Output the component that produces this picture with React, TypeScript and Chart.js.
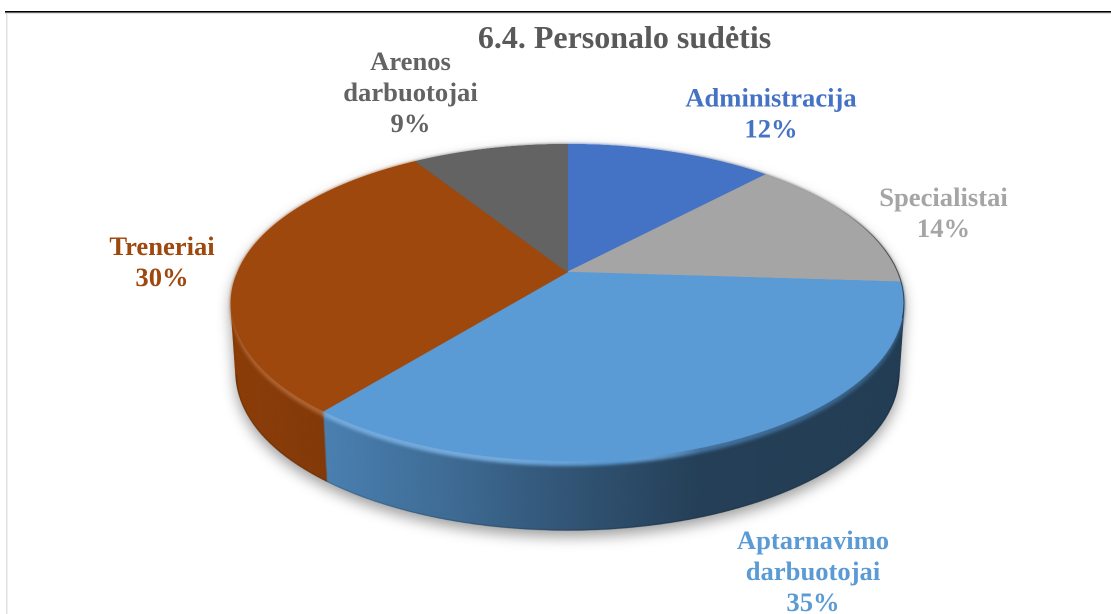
import React, { useEffect, useRef } from "react";
import { Chart, registerables } from "chart.js";

Chart.register(...registerables);

const categories = ["Administracija", "Specialistai", "Aptarnavimo darbuotojai", "Treneriai", "Arenos darbuotojai"];
const shares = [12, 14, 34.85, 30.15, 9];
const sliceColors = ["#4472C4", "#A5A5A5", "#5B9BD5", "#9E480E", "#636363"];
const titleText = "6.4. Personalo sudėtis";
const labelLines = [["Administracija"], ["Specialistai"], ["Aptarnavimo", "darbuotojai"], ["Treneriai"], ["Arenos", "darbuotojai"]];
const labelCenterX = [771, 943.5, 813, 162, 410.5];
const labelFirstLineY = [99.5, 199, 542, 248, 63];

const WIDTH = 1111;
const HEIGHT = 614;
const DPR = 2;
// projection of the flat pie: perspective tilt
const view = { cx: 567.5, apexY: 272, k: 0.1924, b: 152.6, a: 330.2, depth: 72.5, shrink: 0.985 };

function makeCanvas() {
  const c = document.createElement("canvas");
  c.width = WIDTH * DPR;
  c.height = HEIGHT * DPR;
  return c;
}

const pie3d = {
  id: "pie3d",
  afterDatasetsDraw(chart: any) {
    const el = chart.getDatasetMeta(0).data[0];
    const R = el.outerRadius + 0.5;
    const sx = el.x;
    const sy = el.y;
    const main = chart.ctx as CanvasRenderingContext2D;
    const src = makeCanvas();
    src.getContext("2d")!.drawImage(chart.canvas, 0, 0);

    // perspective warp of the drawn pie, row by row
    const face = makeCanvas();
    const fc = face.getContext("2d")!;
    fc.imageSmoothingQuality = "high";
    const { cx, apexY, k, b, a, depth, shrink } = view;
    const rowToV = (Yd: number) => {
      const y = Yd / DPR - apexY;
      return y / (b + k * y);
    };
    const top = Math.floor((apexY - b / (1 + k)) * DPR);
    const bottom = Math.ceil((apexY + b / (1 - k)) * DPR);
    for (let Yd = top; Yd < bottom; Yd++) {
      const v0 = rowToV(Yd);
      const v1 = rowToV(Yd + 1);
      const w = 1 - k * (v0 + v1) / 2;
      const s0 = (sy + R * Math.max(-1, v0)) * DPR;
      const s1 = (sy + R * Math.min(1, v1)) * DPR;
      fc.drawImage(src, (sx - R) * DPR, s0, 2 * R * DPR, Math.max(0.01, s1 - s0), (cx - a / w) * DPR, Yd, (2 * a / w) * DPR, 1);
    }

    const cy = apexY + (b / (1 - k) - b / (1 + k)) / 2;
    const ry = (b / (1 - k) + b / (1 + k)) / 2;
    const rx = a / Math.sqrt(1 - k * k);

    const xGrad = (c: CanvasRenderingContext2D, stops: [number, string][]) => {
      const g = c.createLinearGradient(231 * DPR, 0, 904 * DPR, 0);
      stops.forEach(([x, col]) => g.addColorStop((x - 231) / 673, col));
      return g;
    };
    const stack = (c: CanvasRenderingContext2D, from: number, to: number, scaleEnd: number) => {
      const n = Math.max(1, Math.round((to - from) * DPR));
      for (let i = n; i >= 0; i--) {
        const d = from + ((to - from) * i) / n;
        const s = 1 - (1 - scaleEnd) * (d / depth);
        c.setTransform(s, 0, 0, s, cx * DPR * (1 - s), (apexY * (1 - s) + d) * DPR);
        c.drawImage(face, 0, 0);
      }
      c.setTransform(1, 0, 0, 1, 0, 0);
    };

    // side wall
    const wall = makeCanvas();
    const wc = wall.getContext("2d")!;
    stack(wc, 0, depth, shrink);
    wc.globalCompositeOperation = "source-atop";
    wc.fillStyle = xGrad(wc, [
      [231, "rgba(0,0,0,0.10)"],
      [325, "rgba(0,0,0,0.17)"],
      [450, "rgba(0,0,0,0.30)"],
      [560, "rgba(0,0,0,0.44)"],
      [700, "rgba(0,0,0,0.59)"],
      [904, "rgba(0,0,0,0.60)"],
    ]);
    wc.fillRect(0, 0, wall.width, wall.height);
    // darker foot of the wall
    const lowY = apexY + (cy - apexY) * shrink + depth;
    wc.beginPath();
    wc.ellipse(cx * DPR, lowY * DPR, rx * shrink * DPR, ry * shrink * DPR, 0, 0, Math.PI);
    wc.strokeStyle = "rgba(0,0,0,0.28)";
    wc.lineWidth = 3;
    wc.filter = "blur(1px)";
    wc.stroke();
    wc.filter = "none";

    // bevel between the top face and the wall
    const bevel = makeCanvas();
    const bc = bevel.getContext("2d")!;
    stack(bc, 0, 5, shrink);
    bc.globalCompositeOperation = "source-atop";
    bc.fillStyle = xGrad(bc, [
      [231, "rgba(255,255,255,0.16)"],
      [500, "rgba(255,255,255,0.16)"],
      [620, "rgba(255,255,255,0)"],
      [700, "rgba(0,0,0,0.25)"],
      [904, "rgba(0,0,0,0.4)"],
    ]);
    bc.fillRect(0, 0, bevel.width, bevel.height);

    main.save();
    main.setTransform(1, 0, 0, 1, 0, 0);
    main.clearRect(0, 0, chart.canvas.width, chart.canvas.height);
    main.shadowColor = "rgba(0,0,0,0.38)";
    main.shadowBlur = 28;
    main.shadowOffsetY = 12;
    main.drawImage(wall, 0, 0);
    main.shadowColor = "transparent";
    main.shadowBlur = 0;
    main.shadowOffsetY = 0;
    main.filter = "blur(3px)";
    main.drawImage(bevel, 0, 0);
    main.filter = "none";
    main.drawImage(face, 0, 0);

    // dark rim on the far right edge
    main.beginPath();
    main.ellipse(cx * DPR, cy * DPR, rx * DPR, ry * DPR, 0, -Math.PI / 2, 0.1);
    main.strokeStyle = xGrad(main, [
      [835, "rgba(40,50,60,0)"],
      [885, "rgba(40,50,60,0.7)"],
      [904, "rgba(40,50,60,0.8)"],
    ]);
    main.lineWidth = 2;
    main.stroke();
    main.restore();

    // frame
    main.save();
    main.fillStyle = "#e0e0e0";
    main.fillRect(6, 12, 1.5, HEIGHT - 12);
    main.fillRect(5, 13, WIDTH - 5, 1);
    main.fillStyle = "#000000";
    main.fillRect(5, 11, WIDTH - 5, 1.6);

    // title and labels
    main.textAlign = "center";
    main.textBaseline = "middle";
    main.fillStyle = "#595959";
    main.font = 'bold 32px "Liberation Serif"';
    main.fillText(titleText, 624.5, 39.5);
    main.font = 'bold 26.6px "Liberation Serif"';
    categories.forEach((_, i) => {
      main.fillStyle = sliceColors[i];
      const lines = [...labelLines[i], Math.round(shares[i]) + "%"];
      lines.forEach((t, j) => main.fillText(t, labelCenterX[i], labelFirstLineY[i] + j * 31));
    });
    main.restore();
  },
};

export default function App() {
  const ref = useRef<HTMLCanvasElement>(null);
  useEffect(() => {
    const chart = new Chart(ref.current!, {
      type: "pie",
      data: {
        labels: categories,
        datasets: [{ data: shares, backgroundColor: sliceColors, borderColor: sliceColors, borderWidth: 1 }],
      },
      options: {
        responsive: false,
        animation: false,
        devicePixelRatio: DPR,
        layout: { padding: 4 },
        plugins: { legend: { display: false }, tooltip: { enabled: false }, title: { display: false } },
      },
      plugins: [pie3d],
    } as any);
    return () => chart.destroy();
  }, []);
  return (
    <div style={{ position: "fixed", left: 0, top: 0, width: WIDTH, height: HEIGHT, background: "#fff" }}>
      <canvas ref={ref} width={WIDTH} height={HEIGHT} style={{ display: "block", width: WIDTH, height: HEIGHT }} />
    </div>
  );
}
